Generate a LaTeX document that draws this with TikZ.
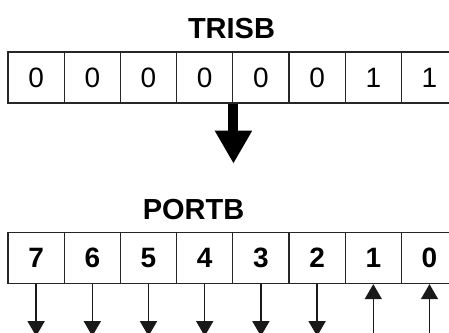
\documentclass[tikz,border=0pt]{standalone}
\usepackage{fontspec}
\setmainfont{Liberation Sans}
\usetikzlibrary{arrows.meta,calc}
\tikzset{
  cell/.style={draw=black!85, line width=1.3pt, minimum width=56.2pt, minimum height=51pt, inner sep=0pt, font=\fontsize{28}{28}\selectfont},
  bcell/.style={cell, font=\fontsize{28}{28}\selectfont\bfseries},
  title/.style={font=\fontsize{29}{29}\selectfont\bfseries, inner sep=0pt},
  pin/.style={draw=black!90, line width=1.5pt, -{Triangle[width=17pt,length=15pt]}},
  bigarrow/.style={draw=black, line width=10pt, -{Triangle[width=35pt,length=33pt]}}
}
\begin{document}
\begin{tikzpicture}[x=1pt,y=-1pt]
\useasboundingbox (0,0) rectangle (449,332);
\node[title] (trisb) at (231.5,29) {TRISB};
\node[title] (portb) at (193.5,210) {PORTB};
\foreach \v [count=\i from 0] in {0,0,0,0,0,0,1,1} {
  \node[cell] (t\i) at ({8+56.2*(\i+0.5)},77.5) {\v};
}
\foreach \v [count=\i from 0] in {7,6,5,4,3,2,1,0} {
  \node[bcell] (p\i) at ({8+56.2*(\i+0.5)},258) {\v};
}
\coordinate (bigtip) at ($(t3.south east)+(0,60)$);
\draw[bigarrow] (t3.south east) -- (bigtip);
\foreach \i in {0,...,5} {
  \coordinate (d\i) at ($(p\i.south)+(0,52)$);
  \draw[pin] (p\i.south) -- (d\i);
}
\foreach \i in {6,7} {
  \coordinate (u\i) at ($(p\i.south)+(0,60)$);
  \draw[pin] (u\i) -- (p\i.south);
}
\end{tikzpicture}
\end{document}
